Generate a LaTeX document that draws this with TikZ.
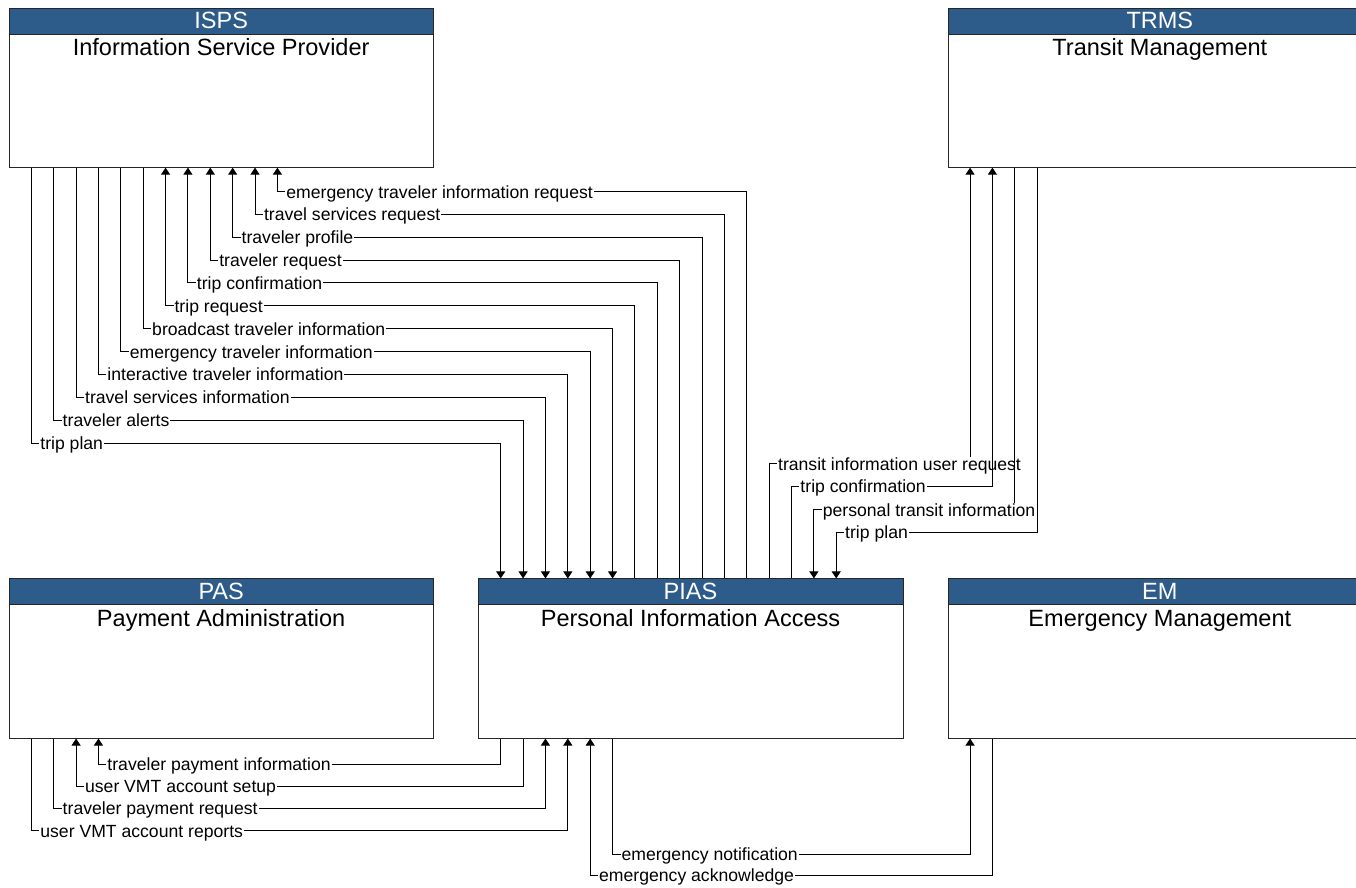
\documentclass[tikz,border=0pt]{standalone}
\usepackage{fontspec}
\setmainfont{Liberation Sans}
\usetikzlibrary{arrows.meta,positioning}
\definecolor{headblue}{RGB}{45,91,138}
\tikzset{
  box/.style={draw=black!85, line width=1pt, fill=white, minimum width=424pt, minimum height=159pt, inner sep=0pt, anchor=north west},
  head/.style={draw=black!85, line width=1pt, fill=headblue, minimum width=424pt, minimum height=26pt, inner sep=0pt, anchor=north west},
  headtext/.style={inner sep=0pt, anchor=base, text=white, font=\fontsize{23.5}{26}\selectfont},
  title/.style={inner sep=0pt, anchor=base, font=\fontsize{23.5}{26}\selectfont},
  wide/.style={minimum width=470pt},
  flow/.style={-{Triangle[length=7pt,width=9pt]}, line width=1pt},
  back/.style={{Triangle[length=7pt,width=9pt]}-, line width=1pt},
  lbl/.style={fill=white, inner xsep=1pt, inner ysep=0.5pt, anchor=west, xshift=7.5pt, font=\fontsize{17.6}{20}\selectfont, text height=13pt, text depth=0pt},
}
\begin{document}
\begin{tikzpicture}[x=1pt,y=-1pt]
		\def\sp{22.35pt}
		\def\xLeft{9}
		\def\xMid{478}
		\def\xRight{947}
		\def\yTop{7.5}
		\def\yLow{578}

\useasboundingbox (0,0) rectangle (1355,887);

\node[box] (isps) at (\xLeft,\yTop) {};
\node[head] (isps-h) at (isps.north west) {};
\node[headtext] (isps-n) at ([xshift=212pt,yshift=-21pt]isps.north west) {ISPS};
\node[title] (isps-t) at ([xshift=212pt,yshift=-48pt]isps.north west) {Information Service Provider};

\node[box,wide] (trms) at (\xRight,\yTop) {};
\node[head,wide] (trms-h) at (trms.north west) {};
\node[headtext] (trms-n) at ([xshift=212pt,yshift=-21pt]trms.north west) {TRMS};
\node[title] (trms-t) at ([xshift=212pt,yshift=-48pt]trms.north west) {Transit Management};

\node[box] (pas) at (\xLeft,\yLow) {};
\node[head] (pas-h) at (pas.north west) {};
\node[headtext] (pas-n) at ([xshift=212pt,yshift=-21pt]pas.north west) {PAS};
\node[title] (pas-t) at ([xshift=212pt,yshift=-48pt]pas.north west) {Payment Administration};

\node[box] (pias) at (\xMid,\yLow) {};
\node[head] (pias-h) at (pias.north west) {};
\node[headtext] (pias-n) at ([xshift=212pt,yshift=-21pt]pias.north west) {PIAS};
\node[title] (pias-t) at ([xshift=212pt,yshift=-48pt]pias.north west) {Personal Information Access};

\node[box,wide] (em) at (\xRight,\yLow) {};
\node[head,wide] (em-h) at (em.north west) {};
\node[headtext] (em-n) at ([xshift=212pt,yshift=-21pt]em.north west) {EM};
\node[title] (em-t) at ([xshift=212pt,yshift=-48pt]em.north west) {Emergency Management};

\draw[back] ([xshift=12*\sp]isps.south west) -- ++(0,23.85) node[lbl] {emergency traveler information request} -| ([xshift=12*\sp]pias.north west);
\draw[back] ([xshift=11*\sp]isps.south west) -- ++(0,46.7) node[lbl] {travel services request} -| ([xshift=11*\sp]pias.north west);
\draw[back] ([xshift=10*\sp]isps.south west) -- ++(0,69.55) node[lbl] {traveler profile} -| ([xshift=10*\sp]pias.north west);
\draw[back] ([xshift=9*\sp]isps.south west) -- ++(0,92.4) node[lbl] {traveler request} -| ([xshift=9*\sp]pias.north west);
\draw[back] ([xshift=8*\sp]isps.south west) -- ++(0,115.25) node[lbl] {trip confirmation} -| ([xshift=8*\sp]pias.north west);
\draw[back] ([xshift=7*\sp]isps.south west) -- ++(0,138.1) node[lbl] {trip request} -| ([xshift=7*\sp]pias.north west);
\draw[flow] ([xshift=6*\sp]isps.south west) -- ++(0,160.95) node[lbl] {broadcast traveler information} -| ([xshift=6*\sp]pias.north west);
\draw[flow] ([xshift=5*\sp]isps.south west) -- ++(0,183.8) node[lbl] {emergency traveler information} -| ([xshift=5*\sp]pias.north west);
\draw[flow] ([xshift=4*\sp]isps.south west) -- ++(0,206.65) node[lbl] {interactive traveler information} -| ([xshift=4*\sp]pias.north west);
\draw[flow] ([xshift=3*\sp]isps.south west) -- ++(0,229.5) node[lbl] {travel services information} -| ([xshift=3*\sp]pias.north west);
\draw[flow] ([xshift=2*\sp]isps.south west) -- ++(0,252.35) node[lbl] {traveler alerts} -| ([xshift=2*\sp]pias.north west);
\draw[flow] ([xshift=\sp]isps.south west) -- ++(0,275.2) node[lbl] {trip plan} -| ([xshift=\sp]pias.north west);

\draw[flow] ([xshift=13*\sp]pias.north west) -- ++(0,-114.7) node[lbl] {transit information user request} -| ([xshift=\sp]trms.south west);
\draw[flow] ([xshift=14*\sp]pias.north west) -- ++(0,-92) node[lbl] {trip confirmation} -| ([xshift=2*\sp]trms.south west);
\draw[back] ([xshift=15*\sp]pias.north west) -- ++(0,-68.7) node[lbl] {personal transit information} -| ([xshift=3*\sp]trms.south west);
\draw[back] ([xshift=16*\sp]pias.north west) -- ++(0,-46.3) node[lbl] {trip plan} -| ([xshift=4*\sp]trms.south west);

\draw[back] ([xshift=4*\sp]pas.south west) -- ++(0,25.5) node[lbl] {traveler payment information} -| ([xshift=\sp]pias.south west);
\draw[back] ([xshift=3*\sp]pas.south west) -- ++(0,47.8) node[lbl] {user VMT account setup} -| ([xshift=2*\sp]pias.south west);
\draw[flow] ([xshift=2*\sp]pas.south west) -- ++(0,69.8) node[lbl] {traveler payment request} -| ([xshift=3*\sp]pias.south west);
\draw[flow] ([xshift=\sp]pas.south west) -- ++(0,92.2) node[lbl] {user VMT account reports} -| ([xshift=4*\sp]pias.south west);

\draw[flow] ([xshift=6*\sp]pias.south west) -- ++(0,115.5) node[lbl] {emergency notification} -| ([xshift=\sp]em.south west);
\draw[back] ([xshift=5*\sp]pias.south west) -- ++(0,136.5) node[lbl] {emergency acknowledge} -| ([xshift=2*\sp]em.south west);

\end{tikzpicture}
\end{document}
